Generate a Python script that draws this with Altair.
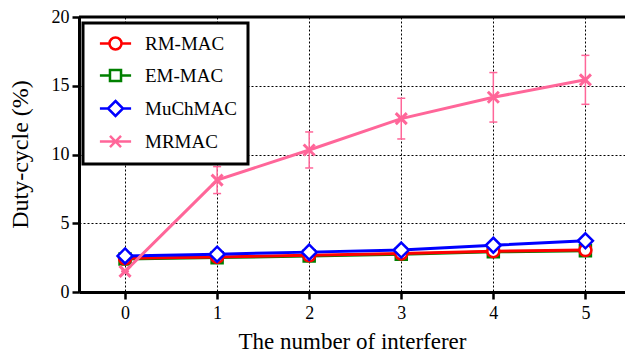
import altair as alt
import pandas as pd

x_vals = [0, 1, 2, 3, 4, 5]
series_names = ["RM-MAC", "EM-MAC", "MuChMAC", "MRMAC"]
rm_mac = [2.45, 2.55, 2.67, 2.8, 2.97, 3.05]
em_mac = [2.4, 2.5, 2.62, 2.75, 2.92, 3.0]
muchmac = [2.62, 2.75, 2.9, 3.05, 3.4, 3.72]
mrmac = [1.5, 8.14, 10.33, 12.61, 14.16, 15.43]
mrmac_err = [0.0, 0.98, 1.31, 1.48, 1.8, 1.78]
colors = ["#ff0000", "#008000", "#0000ff", "#ff6699"]
y_ticks = [0, 5, 10, 15, 20]

FONT = "Liberation Serif"

# marker outlines (unit coordinates)
marker_paths = {
    "RM-MAC": ("M-1,0A1,1,0,1,0,1,0A1,1,0,1,0,-1,0Z", 144),
    "EM-MAC": ("M-1,-1H1V1H-1Z", 121),
    "MuChMAC": ("M0,-1L1,0L0,1L-1,0Z", 225),
    "MRMAC": ("M-1,-1L1,1M-1,1L1,-1", 121),
}
legend_paths = [
    "M-2.6,0H-1M1,0H2.6M-1,0A1,1,0,1,0,1,0A1,1,0,1,0,-1,0Z",
    "M-2.6,0H-0.92M0.92,0H2.6M-0.92,-0.92H0.92V0.92H-0.92Z",
    "M-2.6,0H-1.25M1.25,0H2.6M0,-1.25L1.25,0L0,1.25L-1.25,0Z",
    "M-2.6,0H2.6M-0.92,-0.92L0.92,0.92M-0.92,0.92L0.92,-0.92",
]

values = {"RM-MAC": rm_mac, "EM-MAC": em_mac, "MuChMAC": muchmac, "MRMAC": mrmac}
rows = []
for s in series_names:
    for xi, yi in zip(x_vals, values[s]):
        rows.append({"x": xi, "y": yi, "series": s})
df = pd.DataFrame(rows)

err_df = pd.DataFrame({
    "x": x_vals,
    "lo": [m - e for m, e in zip(mrmac, mrmac_err)],
    "hi": [m + e for m, e in zip(mrmac, mrmac_err)],
})

xscale = alt.Scale(domain=[-0.5, 5.43], nice=False, zero=False)
yscale = alt.Scale(domain=[0, 20], nice=False)

x_enc = alt.X("x:Q", scale=xscale, axis=alt.Axis(
    values=x_vals, title="The number of interferer", format="d",
    titleY=56, titleBaseline="alphabetic", titleFontSize=23,
    labelFont=FONT, titleFont=FONT,
))
y_enc = alt.Y("y:Q", scale=yscale, axis=alt.Axis(
    values=y_ticks, title="Duty-cycle (%)",
    titleX=-59, titleY=137, titleBaseline="middle", titleAngle=-90,
    titleFontSize=24, labelFont=FONT, titleFont=FONT,
))

base = alt.Chart(df)
layers = []

top_rule = alt.Chart(pd.DataFrame({"v": [20]})).mark_rule(
    color="black", strokeWidth=3
).encode(y=alt.Y("v:Q", scale=yscale))
layers.append(top_rule)

draw_order = ["EM-MAC", "RM-MAC", "MuChMAC"]
color_of = dict(zip(series_names, colors))

for s in draw_order:
    sub = base.transform_filter(alt.datum.series == s)
    layers.append(sub.mark_line(color=color_of[s], strokeWidth=3).encode(x=x_enc, y=y_enc))
    path, size = marker_paths[s]
    layers.append(sub.mark_point(shape=path, size=size, fill="white", stroke=color_of[s],
                                 strokeWidth=2.5, opacity=1, fillOpacity=1, filled=False)
                  .encode(x=x_enc, y=y_enc))

# MRMAC error bars
err = alt.Chart(err_df)
layers.append(err.mark_rule(color=color_of["MRMAC"], strokeWidth=1.5).encode(
    x=alt.X("x:Q", scale=xscale), y=alt.Y("lo:Q", scale=yscale), y2="hi:Q"))
layers.append(err.mark_tick(color=color_of["MRMAC"], orient="horizontal", size=8, thickness=1.5, opacity=1).encode(
    x=alt.X("x:Q", scale=xscale), y=alt.Y("lo:Q", scale=yscale)))
layers.append(err.mark_tick(color=color_of["MRMAC"], orient="horizontal", size=8, thickness=1.5, opacity=1).encode(
    x=alt.X("x:Q", scale=xscale), y=alt.Y("hi:Q", scale=yscale)))

sub = base.transform_filter(alt.datum.series == "MRMAC")
layers.append(sub.mark_line(color=color_of["MRMAC"], strokeWidth=3).encode(x=x_enc, y=y_enc))
path, size = marker_paths["MRMAC"]
layers.append(sub.mark_point(shape=path, size=size, stroke=color_of["MRMAC"],
                             strokeWidth=3, opacity=1, filled=False).encode(x=x_enc, y=y_enc))

# legend carrier layer (draws nothing)
leg = alt.Legend(
    title=None, orient="none", legendX=4, legendY=6,
    fillColor="white", strokeColor="black", padding=11, rowPadding=9,
    symbolSize=144, symbolStrokeWidth=2.5, symbolOpacity=1,
    labelFont=FONT, labelFontSize=19, labelColor="black",
    labelOffset=20, symbolOffset=12,
)
legend_layer = base.transform_filter("false").mark_point(filled=False, opacity=1, strokeWidth=2.5).encode(
    x=x_enc, y=y_enc,
    color=alt.Color("series:N", scale=alt.Scale(domain=series_names, range=colors), legend=leg),
    shape=alt.Shape("series:N", scale=alt.Scale(domain=series_names, range=legend_paths), legend=leg),
)
layers.append(legend_layer)

chart = alt.layer(*layers).properties(
    width=546, height=275,
    padding={"left": 79, "top": 17, "right": 0, "bottom": 61},
    autosize="none",
).configure(font=FONT).configure_view(stroke=None).configure_axis(
    domainColor="black", domainWidth=3,
    tickColor="black", tickWidth=2.5, tickSize=7,
    labelFont=FONT, labelFontSize=18, labelColor="black",
    titleFont=FONT, titleColor="black", titleFontWeight="normal",
    grid=True, gridColor="black", gridDash=[2, 2], gridWidth=1, gridOpacity=1,
).configure_axisX(labelPadding=5).configure_axisY(labelPadding=3).configure_legend(
    strokeWidth=3, labelFont=FONT
)

chart.save("out.html", embed_options={"renderer": "svg", "actions": False})
